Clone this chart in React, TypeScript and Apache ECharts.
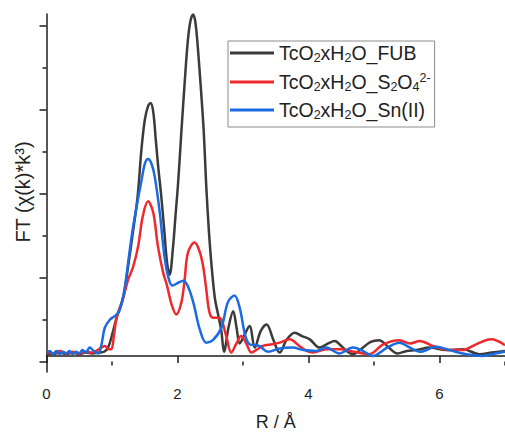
import React, { useEffect, useRef } from "react";
import * as echarts from "echarts";

const seriesNames = ["TcO2xH2O_FUB", "TcO2xH2O_S2O4 2-", "TcO2xH2O_Sn(II)"];
const seriesColors = ["#3b3b3b", "#ee2a2e", "#1b6ae0"];

const fubData: number[][] = [
  [0, 0.03], [0.1, 0.02], [0.2, 0.04], [0.3, 0.02], [0.4, 0.04], [0.5, 0.02], [0.6, 0.04], [0.7, 0.03],
  [0.8, 0.04], [0.88, 0.05], [0.94, 0.1], [1.0, 0.25], [1.07, 0.46], [1.17, 0.7], [1.24, 1.05], [1.32, 1.5],
  [1.39, 1.92], [1.45, 2.5], [1.5, 2.85], [1.55, 3.02], [1.59, 3.06], [1.63, 2.95], [1.67, 2.6], [1.71, 2.25],
  [1.75, 1.95], [1.8, 1.5], [1.84, 1.13], [1.88, 0.98], [1.93, 1.3], [1.97, 1.7], [2.01, 2.1], [2.06, 2.72],
  [2.11, 3.31], [2.16, 3.83], [2.2, 4.06], [2.24, 4.13], [2.27, 4.05], [2.3, 3.83], [2.35, 3.31], [2.4, 2.72],
  [2.44, 2.04], [2.48, 1.5], [2.52, 1.09], [2.57, 0.7], [2.62, 0.5], [2.67, 0.3], [2.71, 0.05], [2.78, 0.35],
  [2.85, 0.54], [2.9, 0.35], [2.95, 0.15], [3.02, 0.25], [3.1, 0.36], [3.18, 0.1], [3.27, 0.3], [3.36, 0.38],
  [3.46, 0.2], [3.56, 0.04], [3.67, 0.2], [3.79, 0.28], [3.9, 0.24], [4.02, 0.2], [4.17, 0.1], [4.3, 0.15],
  [4.4, 0.18], [4.5, 0.12], [4.58, 0.06], [4.68, 0.02], [4.8, 0.08], [4.95, 0.17], [5.08, 0.19], [5.2, 0.12],
  [5.36, 0.03], [5.5, 0.06], [5.64, 0.07], [5.85, 0.1], [6.1, 0.07], [6.36, 0.08], [6.61, 0.02], [6.8, 0.04],
  [7.0, 0.06],
];

const s2o4Data: number[][] = [
  [0, 0.05], [0.1, 0.03], [0.2, 0.06], [0.3, 0.03], [0.4, 0.05], [0.5, 0.03], [0.6, 0.05], [0.7, 0.04],
  [0.8, 0.08], [0.89, 0.12], [0.95, 0.08], [0.99, 0.08], [1.03, 0.25], [1.07, 0.46], [1.17, 0.7], [1.25, 0.93],
  [1.32, 1.07], [1.4, 1.33], [1.47, 1.69], [1.55, 1.87], [1.63, 1.73], [1.7, 1.33], [1.78, 1.01], [1.84, 0.85],
  [1.91, 0.62], [1.98, 0.5], [2.06, 0.65], [2.11, 0.93], [2.16, 1.25], [2.26, 1.37], [2.33, 1.28], [2.39, 1.09],
  [2.44, 0.8], [2.49, 0.52], [2.55, 0.46], [2.62, 0.46], [2.67, 0.44], [2.75, 0.22], [2.82, 0.04], [2.9, 0.15],
  [2.97, 0.24], [3.05, 0.15], [3.13, 0.04], [3.22, 0.08], [3.3, 0.12], [3.45, 0.14], [3.56, 0.16], [3.71, 0.2],
  [3.86, 0.12], [3.97, 0.06], [4.07, 0.04], [4.27, 0.08], [4.48, 0.08], [4.7, 0.05], [4.93, 0.02], [5.14, 0.14],
  [5.39, 0.19], [5.55, 0.15], [5.7, 0.18], [5.9, 0.12], [6.15, 0.07], [6.35, 0.07], [6.56, 0.14], [6.79, 0.2],
  [7.0, 0.13],
];

const snData: number[][] = [
  [0, 0.04], [0.05, 0.06], [0.1, 0.02], [0.15, 0.06], [0.2, 0.02], [0.25, 0.05], [0.3, 0.03], [0.35, 0.06],
  [0.4, 0.02], [0.45, 0.05], [0.5, 0.03], [0.55, 0.07], [0.6, 0.04], [0.66, 0.1], [0.72, 0.06], [0.79, 0.03],
  [0.84, 0.14], [0.89, 0.34], [0.97, 0.44], [1.04, 0.48], [1.11, 0.54], [1.19, 0.8], [1.25, 1.15], [1.31, 1.5],
  [1.37, 1.78], [1.45, 2.12], [1.5, 2.32], [1.55, 2.38], [1.6, 2.33], [1.65, 2.18], [1.73, 1.73], [1.8, 1.21],
  [1.86, 0.95], [1.92, 0.85], [2.0, 0.88], [2.09, 0.91], [2.16, 0.84], [2.24, 0.65], [2.34, 0.32], [2.44, 0.16],
  [2.54, 0.19], [2.67, 0.34], [2.77, 0.65], [2.87, 0.73], [2.95, 0.58], [3.03, 0.26], [3.1, 0.14], [3.25, 0.12],
  [3.38, 0.05], [3.56, 0.09], [3.76, 0.1], [3.92, 0.07], [4.12, 0.06], [4.27, 0.1], [4.47, 0.03], [4.68, 0.1],
  [4.83, 0.06], [4.98, 0.0], [5.2, 0.1], [5.39, 0.16], [5.55, 0.1], [5.7, 0.05], [5.95, 0.11], [6.15, 0.07],
  [6.41, 0.02], [6.66, 0.0], [6.85, 0.03], [7.0, 0.05],
];

const xLabelValues = [0, 2, 4, 6];
const xMinorValues = [1, 3, 5, 7];
const xTitle = "R / Å";
const yTitle = "FT (χ(k)*k³)";

const legendRich: Record<string, string> = {
  "TcO2xH2O_FUB": "{n|TcO}{s|2}{n|xH}{s|2}{n|O_FUB}",
  "TcO2xH2O_S2O4 2-": "{n|TcO}{s|2}{n|xH}{s|2}{n|O_S}{s|2}{n|O}{s|4}{p|2-}",
  "TcO2xH2O_Sn(II)": "{n|TcO}{s|2}{n|xH}{s|2}{n|O_Sn(II)}",
};

const FONT = "'Liberation Sans', Arial, sans-serif";

export default function App() {
  const ref = useRef<HTMLDivElement>(null);
  useEffect(() => {
    if (!ref.current) return;
    const chart = echarts.init(ref.current, null, { renderer: "svg" });
    const H = 436;
    const gTop = 14, gBottom = 58, gLeft = 46.5, gRight = 0;
    const yMin = -0.195, yMax = 4.135;
    const ppu = (H - gTop - gBottom) / (yMax - yMin);
    const top1 = gTop + (yMax - 4) * ppu;
    const bottom1 = gBottom + (0 - yMin) * ppu;
    const axisColor = "#1e1e1e";
    const datasets = [fubData, s2o4Data, snData];

    chart.setOption({
      animation: false,
      grid: [
        { left: gLeft, right: gRight, top: gTop, bottom: gBottom },
        { left: gLeft, right: gRight, top: top1, bottom: bottom1 },
      ],
      xAxis: [
        {
          type: "value", gridIndex: 0, min: 0, max: 7,
          axisLine: { show: true, lineStyle: { color: axisColor, width: 1.5 } },
          axisTick: { show: true, customValues: xLabelValues, length: 7, lineStyle: { color: axisColor, width: 1.5 } },
          axisLabel: { show: true, customValues: xLabelValues, fontSize: 15, color: "#222", fontFamily: FONT, margin: 14 },
          splitLine: { show: false },
          name: xTitle, nameLocation: "middle", nameGap: 41,
          nameTextStyle: { fontSize: 18, color: "#222", fontFamily: FONT },
        },
        {
          type: "value", gridIndex: 1, min: 0, max: 7, position: "bottom", offset: (0 - yMin) * ppu,
          axisLine: { show: false },
          axisTick: { show: true, customValues: xMinorValues, length: 4, lineStyle: { color: axisColor, width: 1.5 } },
          axisLabel: { show: false },
          splitLine: { show: false },
        },
      ],
      yAxis: [
        {
          type: "value", gridIndex: 0, min: yMin, max: yMax,
          axisLine: { show: true, lineStyle: { color: axisColor, width: 1.5 } },
          axisTick: { show: false },
          axisLabel: { show: false },
          splitLine: { show: false },
        },
        {
          type: "value", gridIndex: 1, min: 0, max: 4, interval: 1,
          axisLine: { show: false },
          axisTick: { show: true, length: 7, lineStyle: { color: axisColor, width: 1.5 } },
          minorTick: { show: true, splitNumber: 2, length: 4, lineStyle: { color: axisColor, width: 1.5 } },
          axisLabel: { show: false },
          splitLine: { show: false },
        },
      ],
      legend: {
        orient: "vertical",
        left: 228,
        top: 41,
        padding: [2, 4, 6, 2],
        itemGap: 7,
        itemWidth: 44,
        itemHeight: 3,
        icon: "rect",
        borderColor: "#8c8c8c",
        borderWidth: 1,
        data: seriesNames,
        formatter: (name: string) => legendRich[name] || name,
        textStyle: {
          fontFamily: FONT,
          color: "#222",
          rich: {
            n: { fontSize: 19.5, lineHeight: 22, fontFamily: FONT, color: "#222" },
            s: { fontSize: 12.5, lineHeight: 10, verticalAlign: "bottom", fontFamily: FONT, color: "#222" },
            p: { fontSize: 12.5, lineHeight: 12, verticalAlign: "top", fontFamily: FONT, color: "#222" },
          },
        },
      },
      series: datasets.map((d, i) => ({
        name: seriesNames[i],
        type: "line",
        xAxisIndex: 0,
        yAxisIndex: 0,
        data: d,
        symbol: "none",
        showSymbol: false,
        smooth: 0.35,
        clip: false,
        color: seriesColors[i],
        itemStyle: { color: seriesColors[i] },
        lineStyle: { color: seriesColors[i], width: 2.5 },
        z: 2 + i,
      })),
      graphic: [
        {
          type: "text",
          x: 23,
          y: 192,
          rotation: Math.PI / 2,
          style: {
            text: yTitle,
            fontSize: 20,
            fontFamily: FONT,
            fill: "#222",
            align: "center",
            verticalAlign: "middle",
          },
        },
      ],
    });
    return () => chart.dispose();
  }, []);
  return (
    <div
      ref={ref}
      style={{ position: "fixed", left: 0, top: 0, width: 505, height: 436, background: "#fff" }}
    />
  );
}
